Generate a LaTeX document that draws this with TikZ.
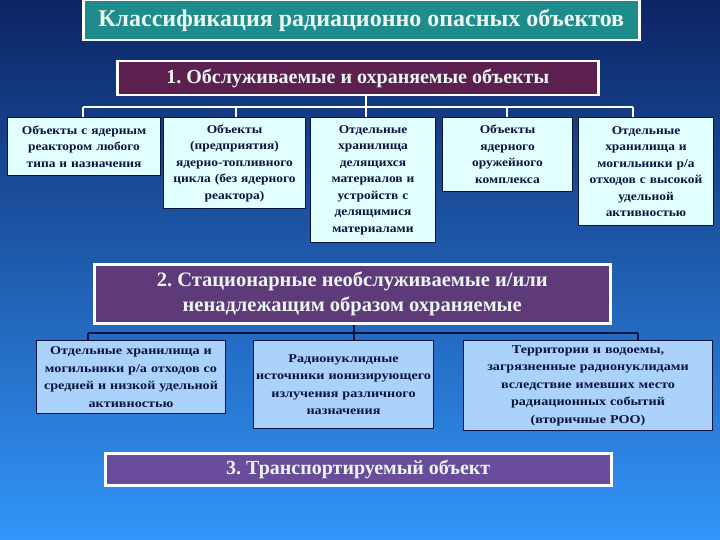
\documentclass[tikz,border=0pt]{standalone}
\usepackage{fontspec}
\setmainfont{Liberation Serif}
\newfontfamily\wideserif[FakeStretch=1.12]{Liberation Serif}
\newfontfamily\widerserif[FakeStretch=1.18]{Liberation Serif}
\frenchspacing
\definecolor{bgtop}{RGB}{12,36,100}
\definecolor{bgmid}{RGB}{34,100,190}
\definecolor{bgbot}{RGB}{50,150,250}
\definecolor{teal1}{RGB}{30,140,140}
\definecolor{purp1}{RGB}{92,32,80}
\definecolor{purp2}{RGB}{94,58,120}
\definecolor{purp3}{RGB}{106,76,156}
\definecolor{cyanbox}{RGB}{225,255,255}
\definecolor{bluebox}{RGB}{170,210,250}
\definecolor{navy}{RGB}{10,20,60}
\definecolor{paletext}{RGB}{235,245,240}
\tikzset{
  mainbox/.style={draw=white, line width=2.5pt, text=paletext, font=\bfseries,
    inner sep=0pt, align=center, anchor=north west},
  subbox/.style={draw=navy, line width=1pt, fill=cyanbox, text=navy,
    font=\wideserif\bfseries\fontsize{12}{16.5}\selectfont, inner sep=0pt, align=center, anchor=north west},
  subboxb/.style={subbox, fill=bluebox, font=\widerserif\bfseries\fontsize{12}{17.5}\selectfont},
  wline/.style={draw=white, line width=1.8pt},
  nline/.style={draw=navy, line width=1.8pt}
}
\begin{document}
\begin{tikzpicture}[x=1pt,y=-1pt]
\useasboundingbox (0,0) rectangle (720,540);
\shade[top color=bgtop, middle color=bgmid, bottom color=bgbot] (0,0) rectangle (720,540);

% title
\node[mainbox, fill=teal1, minimum width=556pt, minimum height=40pt,
  font=\bfseries\fontsize{24}{26}\selectfont] (title) at (82,-1)
  {Классификация радиационно опасных объектов};

% group 1
\node[mainbox, fill=purp1, minimum width=481pt, minimum height=34pt,
  font=\bfseries\fontsize{20}{22}\selectfont] (g1) at (116,60)
  {1. Обслуживаемые и охраняемые объекты};

\node[subbox, minimum width=153pt, minimum height=58pt, text width=150pt] (a1) at (7,117)
  {Объекты с ядерным\\реактором любого\\типа и назначения};
\node[subbox, minimum width=142pt, minimum height=91pt, text width=140pt] (a2) at (163,117)
  {Объекты\\(предприятия)\\ядерно-топливного\\цикла (без ядерного\\реактора)};
\node[subbox, minimum width=125pt, minimum height=125pt, text width=123pt] (a3) at (310,117)
  {Отдельные\\хранилища\\делящихся\\материалов и\\устройств с\\делящимися\\материалами};
\node[subbox, minimum width=130pt, minimum height=74pt, text width=128pt] (a4) at (442,117)
  {Объекты\\ядерного\\оружейного\\комплекса};
\node[subbox, minimum width=135pt, minimum height=108pt, text width=133pt] (a5) at (578,117)
  {Отдельные\\хранилища и\\могильники р/а\\отходов с высокой\\удельной\\активностью};

\coordinate (h1) at (366,107);
\draw[wline] (g1.south -| h1) -- (h1);
\draw[wline] (83,107) -- (633,107);
\draw[wline] (83,107) -- (a1.north -| 83,0);
\draw[wline] (236,107) -- (a2.north -| 236,0);
\draw[wline] (366,107) -- (a3.north -| 366,0);
\draw[wline] (507,107) -- (a4.north -| 507,0);
\draw[wline] (633,107) -- (a5.north -| 633,0);

% group 2
\node[mainbox, fill=purp2, minimum width=516pt, minimum height=59pt,
  font=\bfseries\fontsize{20.5}{25}\selectfont] (g2) at (93,263)
  {2. Стационарные необслуживаемые и/или\\ненадлежащим образом охраняемые};

\node[subboxb, minimum width=189pt, minimum height=73pt, text width=186pt] (b1) at (36,340)
  {Отдельные хранилища и\\могильники р/а отходов со\\средней и низкой удельной\\активностью};
\node[subboxb, minimum width=180pt, minimum height=88pt, text width=178pt] (b2) at (253,340)
  {Радионуклидные\\источники ионизирующего\\излучения различного\\назначения};
\node[subboxb, minimum width=249pt, minimum height=90pt, text width=246pt] (b3) at (463,340)
  {Территории и водоемы,\\загрязненные радионуклидами\\вследствие имевших место\\радиационных событий\\(вторичные РОО)};

\draw[nline] (g2.south -| 354,0) -- (354,333);
\draw[nline] (88,333) -- (638,333);
\draw[nline] (88,333) -- (b1.north -| 88,0);
\draw[nline] (354,333) -- (b2.north -| 354,0);
\draw[nline] (638,333) -- (b3.north -| 638,0);

% group 3
\node[mainbox, fill=purp3, minimum width=506pt, minimum height=32pt,
  font=\bfseries\fontsize{20}{22}\selectfont] (g3) at (104,452)
  {3. Транспортируемый объект};
\end{tikzpicture}
\end{document}
